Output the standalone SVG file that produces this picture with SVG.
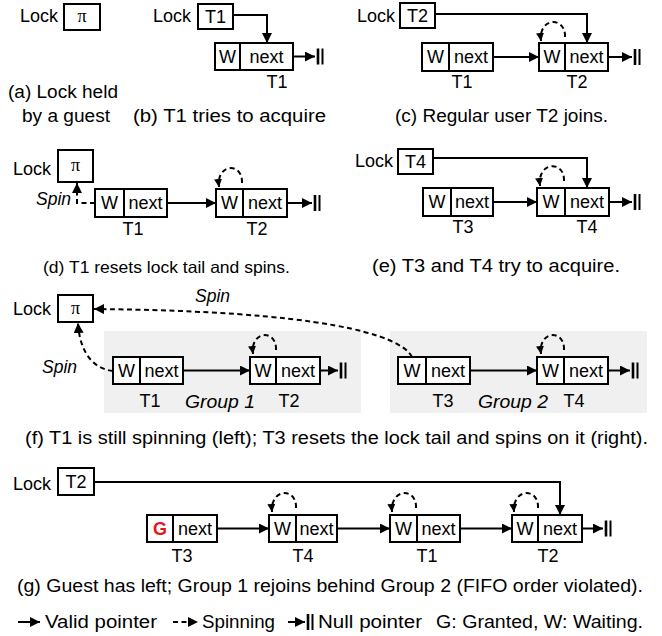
<svg xmlns="http://www.w3.org/2000/svg" xmlns:xlink="http://www.w3.org/1999/xlink" width="662" height="636" viewBox="0 0 662 636">
<style>
text{font-family:"Liberation Sans",Arial,sans-serif;font-size:18px;fill:#000}
.cap{font-size:17.5px}
.c{text-anchor:middle}
.it{font-style:italic;font-size:17.5px}
.pi{font-family:"Liberation Serif","DejaVu Serif",serif;font-size:18px}
.box{fill:#fff;stroke:#000;stroke-width:2}
.ln{fill:none;stroke:#000;stroke-width:2}
.ds{fill:none;stroke:#000;stroke-width:2;stroke-dasharray:5 3.5}
.bar{stroke:#000}
.grp{fill:#f0f0f0;stroke:none}
.g{fill:#e8141b;font-weight:bold}
</style>
<defs>
<marker id="ah" viewBox="0 0 10 10" refX="10" refY="5" markerWidth="10" markerHeight="10" markerUnits="userSpaceOnUse" orient="auto"><path d="M0,0 L10,5 L0,10 z" fill="#000"/></marker>
<marker id="as" viewBox="0 0 10 10" refX="10" refY="5" markerWidth="8" markerHeight="8" markerUnits="userSpaceOnUse" orient="auto"><path d="M0,0 L10,5 L0,10 z" fill="#000"/></marker>
<g id="bars"><line class="bar" x1="3" y1="-8" x2="3" y2="8" stroke-width="2.6"/><line class="bar" x1="7.5" y1="-8" x2="7.5" y2="8" stroke-width="2"/></g>
</defs>

<!-- backgrounds -->
<rect class="grp" x="104" y="331" width="257" height="82"/>
<rect class="grp" x="390" y="331" width="257" height="82"/>

<!-- (a) -->
<g id="a-lock"><text x="20" y="22">Lock</text><rect class="box" x="64" y="4" width="36" height="26"/><text class="pi c" x="82" y="22">π</text></g>
<text class="cap" x="8" y="98" textLength="110" lengthAdjust="spacingAndGlyphs">(a) Lock held</text>
<text class="cap" x="22" y="122" textLength="88" lengthAdjust="spacingAndGlyphs">by a guest</text>

<!-- (b) -->
<g id="b-lock"><text x="153" y="22">Lock</text><rect class="box" x="198" y="4" width="35" height="25"/><text class="c" x="215.5" y="23">T1</text></g>
<g id="b-t1"><rect class="box" x="215" y="43" width="25" height="27"/><rect class="box" x="240" y="43" width="53" height="27"/><text class="c" x="227.5" y="63">W</text><text class="c" x="266.5" y="63">next</text><text class="c" x="277" y="88">T1</text></g>
<text class="cap" x="133" y="122" textLength="193" lengthAdjust="spacingAndGlyphs">(b) T1 tries to acquire</text>

<!-- (c) -->
<g id="c-lock"><text x="357" y="22">Lock</text><rect class="box" x="400" y="3" width="35" height="25"/><text class="c" x="417.5" y="22">T2</text></g>
<g id="c-t1"><rect class="box" x="422" y="43" width="27" height="28"/><rect class="box" x="449" y="43" width="44" height="28"/><text class="c" x="435.5" y="63">W</text><text class="c" x="471" y="63">next</text><text class="c" x="462" y="88">T1</text></g>
<g id="c-t2"><rect class="box" x="539" y="43" width="26" height="28"/><rect class="box" x="565" y="43" width="43" height="28"/><text class="c" x="552" y="63">W</text><text class="c" x="586.5" y="63">next</text><text class="c" x="577" y="88">T2</text></g>
<text class="cap" x="395" y="122" textLength="213" lengthAdjust="spacingAndGlyphs">(c) Regular user T2 joins.</text>

<!-- (d) -->
<g id="d-lock"><text x="13" y="175">Lock</text><rect class="box" x="58" y="150" width="35" height="32"/><text class="pi c" x="75.5" y="171">π</text></g>
<text class="it" x="36" y="205">Spin</text>
<g id="d-t1"><rect class="box" x="95" y="189" width="29" height="28"/><rect class="box" x="124" y="189" width="43" height="28"/><text class="c" x="109.5" y="209">W</text><text class="c" x="145.5" y="209">next</text><text class="c" x="133" y="235">T1</text></g>
<g id="d-t2"><rect class="box" x="216" y="189" width="27" height="28"/><rect class="box" x="243" y="189" width="44" height="28"/><text class="c" x="229.5" y="209">W</text><text class="c" x="265" y="209">next</text><text class="c" x="257" y="235">T2</text></g>
<text class="cap" x="43" y="273" style="font-size:16.5px" textLength="247" lengthAdjust="spacingAndGlyphs">(d) T1 resets lock tail and spins.</text>

<!-- (e) -->
<g id="e-lock"><text x="355" y="167">Lock</text><rect class="box" x="398" y="149" width="35" height="25"/><text class="c" x="415.5" y="168">T4</text></g>
<g id="e-t3"><rect class="box" x="423" y="188" width="28" height="28"/><rect class="box" x="451" y="188" width="42" height="28"/><text class="c" x="437" y="208">W</text><text class="c" x="472" y="208">next</text><text class="c" x="463" y="233">T3</text></g>
<g id="e-t4"><rect class="box" x="537" y="188" width="28" height="28"/><rect class="box" x="565" y="188" width="44" height="28"/><text class="c" x="551" y="208">W</text><text class="c" x="587" y="208">next</text><text class="c" x="587" y="233">T4</text></g>
<text class="cap" x="372" y="272" textLength="248" lengthAdjust="spacingAndGlyphs">(e) T3 and T4 try to acquire.</text>

<!-- (f) -->
<g id="f-lock"><text x="13" y="315">Lock</text><rect class="box" x="58" y="295" width="35" height="27"/><text class="pi c" x="75.5" y="314">π</text></g>
<text class="it" x="195" y="302">Spin</text>
<text class="it" x="42" y="373">Spin</text>
<g id="f-t1"><rect class="box" x="113" y="357" width="27" height="27"/><rect class="box" x="140" y="357" width="43" height="27"/><text class="c" x="126.5" y="377">W</text><text class="c" x="161.5" y="377">next</text><text class="c" x="150" y="407">T1</text></g>
<g id="f-t2"><rect class="box" x="250" y="357" width="26" height="27"/><rect class="box" x="276" y="357" width="44" height="27"/><text class="c" x="263" y="377">W</text><text class="c" x="298" y="377">next</text><text class="c" x="289" y="407">T2</text></g>
<text class="it" x="185" y="408" textLength="70" lengthAdjust="spacingAndGlyphs">Group 1</text>
<g id="f-t3"><rect class="box" x="398" y="357" width="28" height="27"/><rect class="box" x="426" y="357" width="44" height="27"/><text class="c" x="412" y="377">W</text><text class="c" x="448" y="377">next</text><text class="c" x="443" y="407">T3</text></g>
<g id="f-t4"><rect class="box" x="537" y="357" width="27" height="27"/><rect class="box" x="564" y="357" width="44" height="27"/><text class="c" x="550.5" y="377">W</text><text class="c" x="586" y="377">next</text><text class="c" x="574" y="407">T4</text></g>
<text class="it" x="478" y="408" textLength="70" lengthAdjust="spacingAndGlyphs">Group 2</text>
<text class="cap" x="25" y="444" textLength="623" lengthAdjust="spacingAndGlyphs">(f) T1 is still spinning (left); T3 resets the lock tail and spins on it (right).</text>

<!-- (g) -->
<g id="g-lock"><text x="13" y="490">Lock</text><rect class="box" x="58" y="468" width="36" height="27"/><text class="c" x="76" y="488">T2</text></g>
<g id="g-t3"><rect class="box" x="147" y="515" width="26" height="27"/><rect class="box" x="173" y="515" width="44" height="27"/><text class="c g" x="160" y="535">G</text><text class="c" x="195" y="535">next</text><text class="c" x="182" y="562">T3</text></g>
<g id="g-t4"><rect class="box" x="269" y="515" width="27" height="27"/><rect class="box" x="296" y="515" width="41" height="27"/><text class="c" x="282.5" y="535">W</text><text class="c" x="316.5" y="535">next</text><text class="c" x="303" y="562">T4</text></g>
<g id="g-t1"><rect class="box" x="390" y="515" width="27" height="27"/><rect class="box" x="417" y="515" width="43" height="27"/><text class="c" x="403.5" y="535">W</text><text class="c" x="438.5" y="535">next</text><text class="c" x="427" y="562">T1</text></g>
<g id="g-t2"><rect class="box" x="512" y="515" width="26" height="27"/><rect class="box" x="538" y="515" width="44" height="27"/><text class="c" x="525" y="535">W</text><text class="c" x="560" y="535">next</text><text class="c" x="548" y="562">T2</text></g>
<text class="cap" x="17" y="592" textLength="626" lengthAdjust="spacingAndGlyphs">(g) Guest has left; Group 1 rejoins behind Group 2 (FIFO order violated).</text>

<!-- legend -->
<g id="legend">
<path class="ln" d="M18,622 H40" marker-end="url(#ah)"/>
<text class="cap" x="45" y="628" textLength="112" lengthAdjust="spacingAndGlyphs">Valid pointer</text>
<path class="ds" d="M173,622 H198" marker-end="url(#ah)"/>
<text class="cap" x="202" y="628" textLength="73" lengthAdjust="spacingAndGlyphs">Spinning</text>
<path class="ln" d="M288,622 H305" marker-end="url(#ah)"/>
<use xlink:href="#bars" x="305" y="622"/>
<text class="cap" x="318" y="628" textLength="104" lengthAdjust="spacingAndGlyphs">Null pointer</text>
<text class="cap" x="436" y="628" textLength="207" lengthAdjust="spacingAndGlyphs">G: Granted, W: Waiting.</text>
</g>

<!-- connectors -->
<g id="connectors">
<path class="ln" d="M233,15 H267 V43" marker-end="url(#ah)"/>
<path class="ln" d="M293,56.5 H315" marker-end="url(#ah)"/>
<use xlink:href="#bars" x="315" y="56.5"/>
<path class="ln" d="M435,14 H587 V43" marker-end="url(#ah)"/>
<path class="ln" d="M493,57 H539" marker-end="url(#ah)"/>
<path class="ln" d="M608,57 H632" marker-end="url(#ah)"/>
<use xlink:href="#bars" x="632" y="57"/>
<path class="ds" d="M565,37 C566,16 538,17 541,41" marker-end="url(#as)"/>
<path class="ds" d="M95,203 H77 V183" marker-end="url(#ah)"/>
<path class="ln" d="M167,203 H216" marker-end="url(#ah)"/>
<path class="ln" d="M287,203 H312" marker-end="url(#ah)"/>
<use xlink:href="#bars" x="312" y="203"/>
<path class="ds" d="M242,183 C243,162 216,163 219,187" marker-end="url(#as)"/>
<path class="ln" d="M433,158 H587 V188" marker-end="url(#ah)"/>
<path class="ln" d="M493,202 H537" marker-end="url(#ah)"/>
<path class="ln" d="M609,202 H632" marker-end="url(#ah)"/>
<use xlink:href="#bars" x="632" y="202"/>
<path class="ds" d="M564,181 C565,160 537,161 540,186" marker-end="url(#as)"/>
<path class="ds" d="M412,357 C400,334 320,311 94,309" marker-end="url(#ah)"/>
<path class="ds" d="M113,371 C95,369 80,355 78,323" marker-end="url(#ah)"/>
<path class="ln" d="M183,370.5 H250" marker-end="url(#ah)"/>
<path class="ln" d="M320,370.5 H338" marker-end="url(#ah)"/>
<use xlink:href="#bars" x="338" y="370.5"/>
<path class="ds" d="M276,350 C277,329 250,330 253,354" marker-end="url(#as)"/>
<path class="ln" d="M470,370.5 H537" marker-end="url(#ah)"/>
<path class="ln" d="M608,370.5 H630" marker-end="url(#ah)"/>
<use xlink:href="#bars" x="630" y="370.5"/>
<path class="ds" d="M564,350 C565,329 538,330 541,354" marker-end="url(#as)"/>
<path class="ln" d="M94,482 H560 V515" marker-end="url(#ah)"/>
<path class="ln" d="M217,528.5 H269" marker-end="url(#ah)"/>
<path class="ln" d="M337,528.5 H390" marker-end="url(#ah)"/>
<path class="ln" d="M460,528.5 H512" marker-end="url(#ah)"/>
<path class="ln" d="M582,528.5 H603" marker-end="url(#ah)"/>
<use xlink:href="#bars" x="603" y="528.5"/>
<path class="ds" d="M296,508 C297,487 270,488 272,512" marker-end="url(#as)"/>
<path class="ds" d="M416,508 C417,487 390,488 392,512" marker-end="url(#as)"/>
<path class="ds" d="M538,508 C539,487 512,488 514,512" marker-end="url(#as)"/>
</g>
</svg>
